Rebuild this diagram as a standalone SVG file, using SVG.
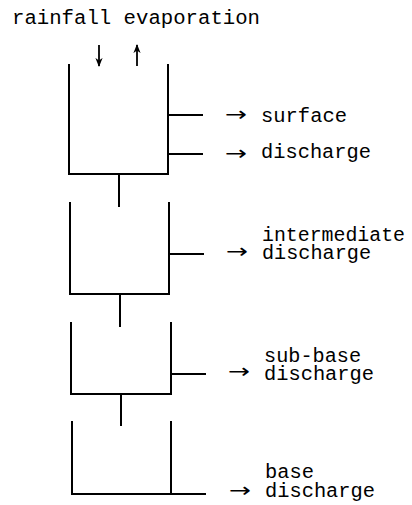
<svg xmlns="http://www.w3.org/2000/svg" width="412" height="505" viewBox="0 0 412 505">
<defs>
<marker id="ah" viewBox="0 0 10 10" refX="9" refY="5" markerWidth="5" markerHeight="5" orient="auto" markerUnits="strokeWidth">
<path d="M0,1 L10,5 L0,9 L3,5 Z" fill="#000"/>
</marker>
</defs>
<style>
.w{fill:none;stroke:#000;stroke-width:2;stroke-linecap:square}
.f{fill:none;stroke:#000;stroke-width:1.8}
.t{font-family:"Liberation Mono","DejaVu Sans Mono",monospace;font-size:20px;fill:#000}
.a{font-family:"DejaVu Sans",sans-serif;font-size:20px;fill:#000}
</style>
<rect width="412" height="505" fill="#fff"/>
<g id="inputs">
<text class="t" x="12" y="24" textLength="248" lengthAdjust="spacingAndGlyphs">rainfall evaporation</text>
</g>
<g id="tank1"><path class="w" d="M69,65 V174 H168 V65"/></g>
<g id="tank2"><path class="w" d="M70,203 V294 H169 V203"/></g>
<g id="tank3"><path class="w" d="M71,323 V394 H171 V323"/></g>
<g id="tank4"><path class="w" d="M72,422 V494 H171 V422"/></g>
<g id="connectors">
<path class="f" d="M99,45 V66" marker-end="url(#ah)"/>
<path class="f" d="M137,66 V45" marker-end="url(#ah)"/>
<path class="w" d="M119,175 V206 M120,295 V326 M121,395 V425"/>
<path class="w" d="M168,115 H202 M168,154 H202 M169,254 H203 M171,374 H205 M171,494 H205"/>
</g>
<g id="outlets">
<text class="a" x="225" y="121" textLength="22" lengthAdjust="spacingAndGlyphs">→</text>
<text class="t" x="261" y="122" textLength="86" lengthAdjust="spacingAndGlyphs">surface</text>
<text class="a" x="225" y="160" textLength="22" lengthAdjust="spacingAndGlyphs">→</text>
<text class="t" x="261" y="158" textLength="110" lengthAdjust="spacingAndGlyphs">discharge</text>
<text class="a" x="226" y="258" textLength="22" lengthAdjust="spacingAndGlyphs">→</text>
<text class="t"><tspan x="262" y="241" textLength="143" lengthAdjust="spacingAndGlyphs">intermediate</tspan><tspan x="262" y="259" textLength="109" lengthAdjust="spacingAndGlyphs">discharge</tspan></text>
<text class="a" x="228" y="378" textLength="22" lengthAdjust="spacingAndGlyphs">→</text>
<text class="t"><tspan x="264" y="362" textLength="97" lengthAdjust="spacingAndGlyphs">sub-base</tspan><tspan x="264" y="380" textLength="110" lengthAdjust="spacingAndGlyphs">discharge</tspan></text>
<text class="a" x="229" y="497" textLength="22" lengthAdjust="spacingAndGlyphs">→</text>
<text class="t"><tspan x="265" y="478" textLength="49" lengthAdjust="spacingAndGlyphs">base</tspan><tspan x="265" y="497" textLength="110" lengthAdjust="spacingAndGlyphs">discharge</tspan></text>
</g>
</svg>
